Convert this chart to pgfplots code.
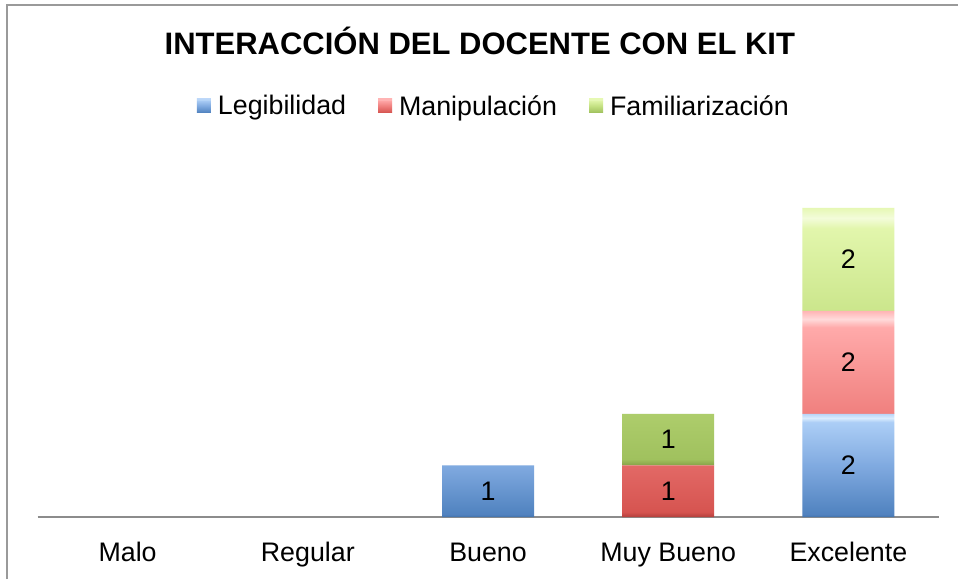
\documentclass[border=0pt]{standalone}
\usepackage{pgfplots}
\pgfplotsset{compat=1.18}
\usetikzlibrary{calc,backgrounds}
\usepackage{fontspec}
\setmainfont{Liberation Sans}

\definecolor{framegray}{HTML}{9A9A9A}

% bevelled vertical fills for the bars (path box maps to 25bp..75bp)
\pgfdeclareverticalshading{bluebar}{100bp}{%
  color(0bp)=(rgb,255:red,63;green,111;blue,168);
  color(25bp)=(rgb,255:red,63;green,111;blue,168);
  color(26.2bp)=(rgb,255:red,80;green,130;blue,191);
  color(50bp)=(rgb,255:red,128;green,170;blue,224);
  color(71bp)=(rgb,255:red,172;green,206;blue,246);
  color(73bp)=(rgb,255:red,218;green,236;blue,253);
  color(75bp)=(rgb,255:red,186;green,214;blue,248);
  color(100bp)=(rgb,255:red,186;green,214;blue,248)}
\pgfdeclareverticalshading{redbar}{100bp}{%
  color(0bp)=(rgb,255:red,178;green,62;blue,59);
  color(25bp)=(rgb,255:red,178;green,62;blue,59);
  color(26.2bp)=(rgb,255:red,214;green,84;blue,80);
  color(50bp)=(rgb,255:red,240;green,128;blue,126);
  color(71bp)=(rgb,255:red,255;green,170;blue,170);
  color(73bp)=(rgb,255:red,255;green,218;blue,218);
  color(75bp)=(rgb,255:red,255;green,180;blue,180);
  color(100bp)=(rgb,255:red,255;green,180;blue,180)}
\pgfdeclareverticalshading{greenbar}{100bp}{%
  color(0bp)=(rgb,255:red,134;green,162;blue,70);
  color(25bp)=(rgb,255:red,134;green,162;blue,70);
  color(26.2bp)=(rgb,255:red,160;green,193;blue,94);
  color(50bp)=(rgb,255:red,196;green,225;blue,130);
  color(71bp)=(rgb,255:red,226;green,246;blue,172);
  color(73bp)=(rgb,255:red,243;green,252;blue,218);
  color(75bp)=(rgb,255:red,230;green,248;blue,180);
  color(100bp)=(rgb,255:red,230;green,248;blue,180)}

\newcommand{\chartfont}{\fontsize{26.8}{30}\selectfont}

\begin{document}
\begin{tikzpicture}[x=1pt,y=1pt]
\begin{axis}[
  scale only axis, width=901pt, height=335pt,
  xmin=-0.5, xmax=4.5, ymin=0, ymax=6.5,
  ybar stacked, bar width=92pt,
  hide y axis,
  axis x line=bottom,
  x axis line style={-, draw=black!45, line width=1.4pt},
  xtick={0,1,2,3,4},
  xticklabels={Malo,Regular,Bueno,Muy Bueno,Excelente},
  xtick style={draw=none},
  xticklabel style={font=\chartfont, anchor=base, yshift=-42pt},
  /pgf/number format/assume math mode=true,
  title={\bfseries INTERACCIÓN DEL DOCENTE CON EL KIT},
  title style={font=\fontsize{31}{34}\selectfont, at={(rel axis cs:0.491,1.403)}, anchor=center},
  legend columns=3,
  legend style={draw=none, fill=none, font=\chartfont,
    at={(rel axis cs:0.5065,1.227)}, anchor=center,
    /tikz/every even column/.append style={column sep=30pt},
    /tikz/every odd column/.append style={column sep=5pt}},
  legend image code/.code={\path[#1, draw=none] (0pt,-7pt) rectangle (14pt,7pt);},
  visualization depends on=rawy \as \rawy,
  nodes near coords={\ifdim\rawy pt>0pt \pgfmathprintnumber{\rawy}\fi},
  every node near coord/.append style={font=\chartfont, text=black, anchor=center},
]
\addplot[draw=none, shading=bluebar]
  coordinates {(0,0) (1,0) (2,1) (3,0) (4,2)};
\addplot[draw=none, shading=redbar]
  coordinates {(0,0) (1,0) (2,0) (3,1) (4,2)};
\addplot[draw=none, shading=greenbar]
  coordinates {(0,0) (1,0) (2,0) (3,1) (4,2)};
\legend{Legibilidad, Manipulación, Familiarización}
\coordinate (O) at (axis cs:-0.5,0);
\end{axis}
\pgfresetboundingbox
\path[use as bounding box] ($(O)+(-37.5,-62)$) rectangle ++(958,579);
\begin{scope}[on background layer]
  \fill[white] ($(O)+(-37.5,-62)$) rectangle ++(958,579);
\end{scope}
% outer frame of the chart area
\draw[framegray, line width=2pt] ($(O)+(-30.5,-62)$) -- ++(0,574) -- ++(951,0);
\end{tikzpicture}
\end{document}
